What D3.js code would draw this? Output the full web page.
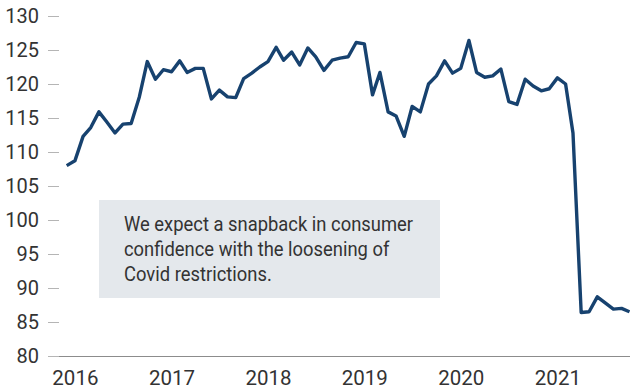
<!DOCTYPE html>
<html lang="en">
	<head>
		<meta charset="utf-8">
		<title>Consumer confidence</title>
		<script type="text/javascript" src="https://d3js.org/d3.v7.min.js"></script>
		<style>
			body { margin: 0; background: #fff; }
			text { font-family: "Roboto", "Liberation Sans", sans-serif; fill: #333; }
		</style>
	</head>
	<body>
		<script type="text/javascript">

			var w = 630;
			var h = 391;

			// monthly index values, Dec 2015 .. Oct 2021
			var startMonth = "2015-12";
			var values = [
				108.0, 108.7, 112.3, 113.6, 115.9, 114.4, 112.8, 114.1, 114.2, 118.1, 123.3, 120.7,
				122.1, 121.8, 123.4, 121.7, 122.3, 122.3, 117.8, 119.1, 118.1, 118.0, 120.8, 121.6,
				122.5, 123.3, 125.4, 123.5, 124.7, 122.8, 125.3, 124.0, 122.0, 123.5, 123.8, 124.0,
				126.1, 125.9, 118.4, 121.7, 115.9, 115.3, 112.3, 116.7, 115.9, 120.0, 121.2, 123.4,
				121.6, 122.3, 126.4, 121.7, 121.0, 121.2, 122.2, 117.4, 117.0, 120.7, 119.7, 119.0,
				119.3, 120.9, 120.0, 112.8, 86.4, 86.5, 88.7, 87.8, 86.9, 87.0, 86.5
			];

			var yTicks = [80, 85, 90, 95, 100, 105, 110, 115, 120, 125, 130];
			var yearTicks = [2016, 2017, 2018, 2019, 2020, 2021];
			var noteLines = [
				"We expect a snapback in consumer",
				"confidence with the loosening of",
				"Covid restrictions."
			];

			var parseMonth = d3.timeParse("%Y-%m");
			var start = parseMonth(startMonth);
			var dataset = values.map(function(v, i) {
				return { date: d3.timeMonth.offset(start, i), value: v };
			});

			var xScale = d3.scaleTime()
				.domain([dataset[0].date, dataset[dataset.length - 1].date])
				.range([66.7, 629.5]);

			var yScale = d3.scaleLinear()
				.domain([80, 130])
				.range([356, 16]);

			var svg = d3.select("body")
				.append("svg")
				.attr("width", w)
				.attr("height", h);

			// y axis: ticks only, no domain line
			var yAxis = d3.axisLeft(yScale)
				.tickValues(yTicks)
				.tickSize(11)
				.tickPadding(9)
				.tickFormat(d3.format("d"));

			var gy = svg.append("g")
				.attr("transform", "translate(59,0)")
				.call(yAxis);
			gy.select(".domain").remove();
			gy.selectAll(".tick line").attr("stroke", "#b5b5b5");
			gy.selectAll(".tick text")
				.style("font-size", "20px")
				.attr("fill", "#333");

			// x axis baseline + year labels
			var xAxis = d3.axisBottom(xScale)
				.tickValues(yearTicks.map(function(y) { return new Date(y, 0, 1); }))
				.tickSize(0)
				.tickPadding(14)
				.tickFormat(d3.timeFormat("%Y"));

			var gx = svg.append("g")
				.attr("transform", "translate(0," + yScale(80) + ")")
				.call(xAxis);
			gx.select(".domain")
				.attr("d", "M59,0.5H630")
				.attr("stroke", "#8c8c8c");
			gx.selectAll(".tick text")
				.style("font-size", "20.5px")
				.attr("fill", "#333");

			// annotation box
			var note = svg.append("g");
			note.append("rect")
				.attr("x", 99)
				.attr("y", 200)
				.attr("width", 341)
				.attr("height", 98)
				.attr("fill", "#e4e8ec");
			// narrow the text a bit, the original face is condensed
			note.append("g")
				.attr("transform", "translate(124,0) scale(0.92,1)")
				.selectAll("text")
				.data(noteLines)
				.enter()
				.append("text")
				.attr("x", 0)
				.attr("y", function(d, i) { return 231.5 + i * 24.7; })
				.style("font-size", "20px")
				.text(function(d) { return d; });

			// line
			var line = d3.line()
				.x(function(d) { return xScale(d.date); })
				.y(function(d) { return yScale(d.value); });

			svg.append("path")
				.datum(dataset)
				.attr("fill", "none")
				.attr("stroke", "#17426f")
				.attr("stroke-width", 3.4)
				.attr("stroke-linejoin", "round")
				.attr("d", line);

		</script>
	</body>
</html>
